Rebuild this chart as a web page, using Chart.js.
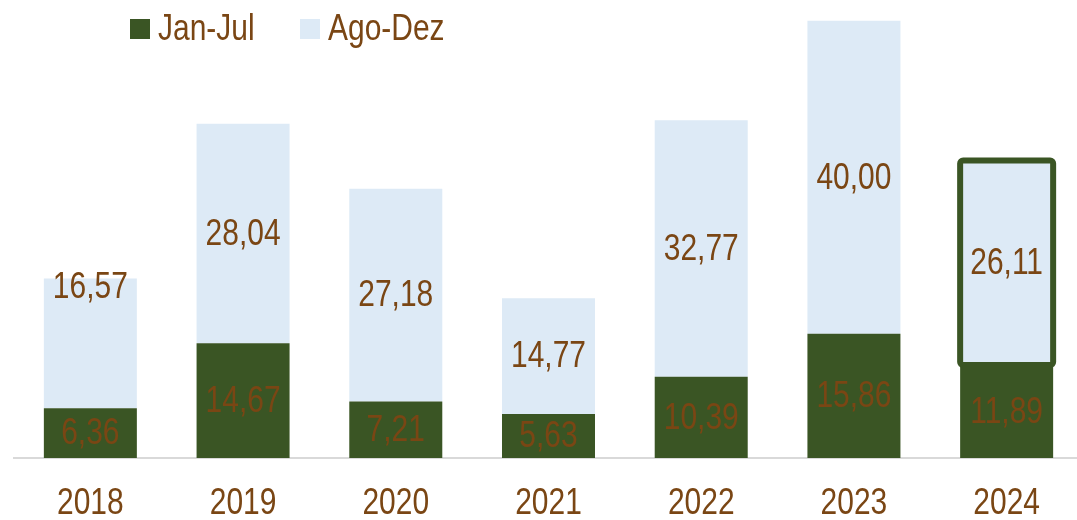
<!DOCTYPE html>
<html><head><meta charset="utf-8">
<script src="https://cdn.jsdelivr.net/npm/chart.js@4/dist/chart.umd.min.js"></script>
<style>html,body{margin:0;padding:0;background:#fff;overflow:hidden}#wrap{width:1083px;height:520px;position:relative}</style>
</head><body><div id="wrap"><canvas id="c"></canvas></div>
<script>
const categories = ['2018','2019','2020','2021','2022','2023','2024'];
const janJul = [6.36, 14.67, 7.21, 5.63, 10.39, 15.86, 11.89];
const agoDez = [16.57, 28.04, 27.18, 14.77, 32.77, 40.00, 26.11];
const seriesNames = ['Jan-Jul', 'Ago-Dez'];

const FONT = '"Liberation Sans", Arial, sans-serif';
const FSIZE = 37;
const SX = 0.81; // narrow face emulation
const GREEN = '#3A5524';
const BLUE = '#DDEAF6';
const BROWN = '#7A4614';

const fmt = v => v.toFixed(2).replace('.', ',');

function narrowText(ctx, txt, x, y, align) {
  ctx.save();
  ctx.translate(x, y);
  ctx.scale(SX, 1);
  ctx.textAlign = align;
  ctx.fillText(txt, 0, 0);
  ctx.restore();
}

const labelPlugin = {
  id: 'labels',
  afterDatasetsDraw(chart) {
    const ctx = chart.ctx;
    const hl = chart.getDatasetMeta(1).data[6];
    if (hl) {
      const w = hl.width, x = hl.x - w / 2, y = hl.y, h = hl.base - hl.y;
      ctx.save();
      ctx.strokeStyle = GREEN; ctx.lineWidth = 6; ctx.lineJoin = 'round';
      ctx.beginPath();
      ctx.roundRect(x, y, w, h, 3);
      ctx.stroke();
      ctx.restore();
    }
    ctx.save();
    ctx.font = FSIZE + 'px ' + FONT;
    ctx.fillStyle = BROWN;
    ctx.textBaseline = 'middle';
    chart.data.datasets.forEach((ds, di) => {
      chart.getDatasetMeta(di).data.forEach((el, i) => {
        let cy = (el.y + el.base) / 2;
        if (di === 1 && i === 0) cy = el.y + 8.5;
        narrowText(ctx, fmt(ds.data[i]), el.x, cy + 1, 'center');
      });
    });
    const xs = chart.scales.x;
    categories.forEach((c, i) => {
      narrowText(ctx, c, xs.getPixelForValue(i), 504, 'center');
    });
    const lxs = [130, 300];
    chart.data.datasets.forEach((ds, di) => {
      const lx = lxs[di];
      ctx.fillStyle = ds.backgroundColor;
      ctx.fillRect(lx, 19, 20, 20);
      ctx.fillStyle = BROWN;
      narrowText(ctx, ds.label, lx + 28, 30, 'left');
    });
    ctx.restore();
  }
};

new Chart(document.getElementById('c'), {
  type: 'bar',
  data: {
    labels: categories,
    datasets: [
      { label: seriesNames[0], data: janJul, backgroundColor: GREEN, borderWidth: 0 },
      { label: seriesNames[1], data: agoDez, backgroundColor: BLUE, borderWidth: 0 }
    ]
  },
  options: {
    responsive: true, maintainAspectRatio: false, animation: false,
    layout: { padding: { left: 14, right: 0, top: 4, bottom: 0 } },
    datasets: { bar: { categoryPercentage: 1, barPercentage: 0.609 } },
    plugins: { legend: { display: false }, tooltip: { enabled: false } },
    scales: {
      x: {
        stacked: true,
        grid: { display: false },
        border: { display: true, color: '#D9D9D9', width: 2 },
        ticks: { display: false },
        afterFit(scale) { scale.height = 62; }
      },
      y: {
        stacked: true, display: false, min: 0, max: 58
      }
    }
  },
  plugins: [labelPlugin]
});
</script></body></html>
